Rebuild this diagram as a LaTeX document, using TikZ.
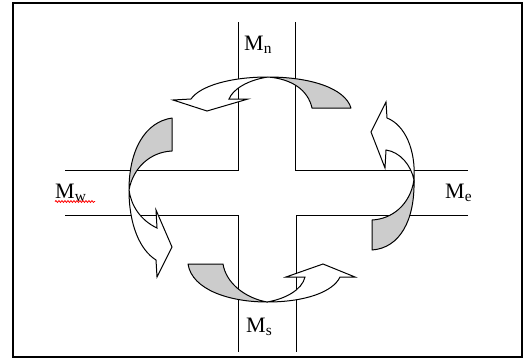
\documentclass[tikz,border=0pt]{standalone}
\usepackage{fontspec}
\setmainfont{Liberation Serif}
\usetikzlibrary{decorations.pathmorphing}
\begin{document}
\begin{tikzpicture}[x=1pt,y=-1pt,
  road/.style={line width=1pt,black},
  tailpart/.style={draw=black,line width=1pt,fill=black!20,line join=round},
  headpart/.style={draw=black,line width=1pt,fill=white,line join=miter},
  lbl/.style={anchor=base west,inner sep=0pt,font=\fontsize{22}{24}\selectfont}]
\useasboundingbox (0,0) rectangle (527,362);
\fill[white] (0,0) rectangle (527,362);
\draw[line width=1.5pt] (13,3) rectangle (522,357);
% cross
\draw[road] (238,22) -- (238,170) -- (65,170);
\draw[road] (295,22) -- (295,170) -- (468,170);
\draw[road] (65,215) -- (238,215) -- (238,352);
\draw[road] (468,215) -- (296,215) -- (296,352);
% top arrow
\path[tailpart] (351,108) .. controls (345,88) and (310,77) .. (268,77)
  .. controls (292,79) and (308,90) .. (312,108) -- cycle;
\path[headpart] (268,77) .. controls (230,77) and (200,86) .. (191,99)
  -- (173,100) -- (207,111) -- (248,99) -- (229,99)
  .. controls (233,89) and (248,80) .. (268,77) -- cycle;
% left arrow
\path[tailpart] (172,118) .. controls (145,122) and (129,150) .. (129,190)
  .. controls (133,168) and (150,152) .. (172,151) -- cycle;
\path[headpart] (129,190) .. controls (129,225) and (140,250) .. (156,260)
  -- (157,277) -- (172,247) -- (156,210) -- (157,228)
  .. controls (140,220) and (131,205) .. (129,190) -- cycle;
% bottom arrow
\path[tailpart] (188,264) .. controls (192,290) and (230,302) .. (267,302)
  .. controls (245,298) and (226,283) .. (223,264) -- cycle;
\path[headpart] (267,302) .. controls (305,302) and (333,292) .. (340,277)
  -- (355,277) -- (323,264) -- (286,277) -- (305,277)
  .. controls (302,290) and (285,299) .. (267,302) -- cycle;
% right arrow
\path[tailpart] (372,250) .. controls (400,248) and (415,220) .. (414,180)
  .. controls (410,205) and (392,219) .. (372,220) -- cycle;
\path[headpart] (414,180) .. controls (416,150) and (405,125) .. (387,118)
  -- (386,102) -- (371,132) -- (385,168) -- (386,150)
  .. controls (400,152) and (411,165) .. (414,180) -- cycle;
% labels
\node[lbl] (mn) at (244,50) {M\textsubscript{n}};
\node[lbl] (mw) at (55,198) {M\textsubscript{w}};
\node[lbl] (me) at (445,198) {M\textsubscript{e}};
\node[lbl] (ms) at (246,332) {M\textsubscript{s}};
\coordinate (uwa) at (55,201.5);
\coordinate (uwb) at (95,201.5);
\draw[red,line width=0.8pt,decorate,decoration={snake,segment length=3pt,amplitude=0.9pt}] (uwa) -- (uwb);
\end{tikzpicture}
\end{document}
